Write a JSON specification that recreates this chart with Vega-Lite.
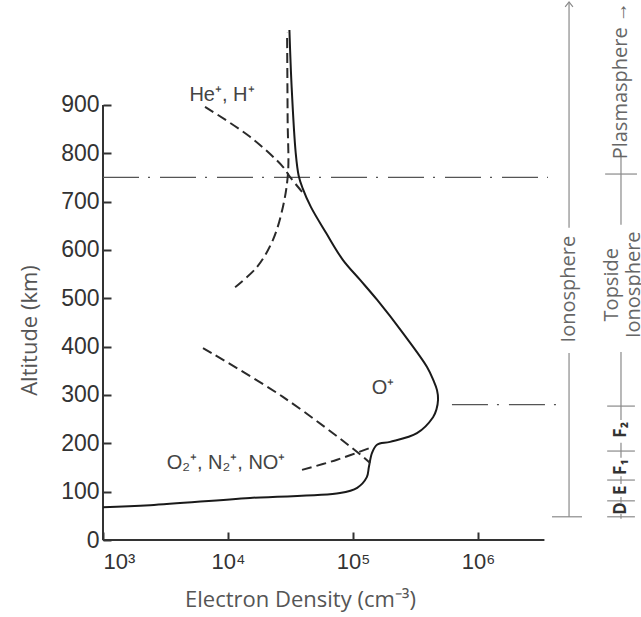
{
  "$schema": "https://vega.github.io/schema/vega-lite/v6.json",
  "autosize": {"type": "none"},
  "padding": {"left": 103, "top": 0, "right": 0, "bottom": 77},
  "width": 538,
  "height": 540,
  "background": "white",
  "config": {"view": {"stroke": null}},
  "datasets": {
    "curves": [
      {"series": "total", "i": 1, "n": 31000, "alt": 1055},
      {"series": "total", "i": 2, "n": 32300, "alt": 937},
      {"series": "total", "i": 3, "n": 34800, "alt": 801},
      {"series": "total", "i": 4, "n": 36800, "alt": 753},
      {"series": "total", "i": 5, "n": 39500, "alt": 728},
      {"series": "total", "i": 6, "n": 46000, "alt": 689},
      {"series": "total", "i": 7, "n": 61000, "alt": 635},
      {"series": "total", "i": 8, "n": 83200, "alt": 579},
      {"series": "total", "i": 9, "n": 114000, "alt": 538},
      {"series": "total", "i": 10, "n": 155600, "alt": 497},
      {"series": "total", "i": 11, "n": 251000, "alt": 428},
      {"series": "total", "i": 12, "n": 391000, "alt": 358},
      {"series": "total", "i": 13, "n": 440000, "alt": 330},
      {"series": "total", "i": 14, "n": 470000, "alt": 310},
      {"series": "total", "i": 15, "n": 479000, "alt": 290},
      {"series": "total", "i": 16, "n": 465000, "alt": 270},
      {"series": "total", "i": 17, "n": 437000, "alt": 254},
      {"series": "total", "i": 18, "n": 325000, "alt": 221},
      {"series": "total", "i": 19, "n": 198000, "alt": 203},
      {"series": "total", "i": 20, "n": 155600, "alt": 197},
      {"series": "total", "i": 21, "n": 142000, "alt": 180},
      {"series": "total", "i": 22, "n": 134000, "alt": 151},
      {"series": "total", "i": 23, "n": 129000, "alt": 130},
      {"series": "total", "i": 24, "n": 108000, "alt": 108},
      {"series": "total", "i": 25, "n": 78700, "alt": 97},
      {"series": "total", "i": 26, "n": 15000, "alt": 87},
      {"series": "total", "i": 27, "n": 2380, "alt": 72},
      {"series": "total", "i": 28, "n": 1000, "alt": 68},
      {"series": "upperO", "i": 1, "n": 6550, "alt": 896},
      {"series": "upperO", "i": 2, "n": 15000, "alt": 834},
      {"series": "upperO", "i": 3, "n": 27500, "alt": 772},
      {"series": "upperO", "i": 4, "n": 31300, "alt": 751},
      {"series": "upperO", "i": 5, "n": 39800, "alt": 718},
      {"series": "light", "i": 1, "n": 11400, "alt": 523},
      {"series": "light", "i": 2, "n": 17100, "alt": 565},
      {"series": "light", "i": 3, "n": 22900, "alt": 621},
      {"series": "light", "i": 4, "n": 27500, "alt": 689},
      {"series": "light", "i": 5, "n": 30200, "alt": 759},
      {"series": "light", "i": 6, "n": 30000, "alt": 869},
      {"series": "light", "i": 7, "n": 29700, "alt": 1049},
      {"series": "lowerO", "i": 1, "n": 6310, "alt": 397},
      {"series": "lowerO", "i": 2, "n": 27500, "alt": 296},
      {"series": "lowerO", "i": 3, "n": 108000, "alt": 182},
      {"series": "lowerO", "i": 4, "n": 137000, "alt": 159},
      {"series": "molecular", "i": 1, "n": 39100, "alt": 145},
      {"series": "molecular", "i": 2, "n": 74500, "alt": 166},
      {"series": "molecular", "i": 3, "n": 142000, "alt": 192}
    ],
    "boundaries": [
      {"n": 1000, "n2": 3630000, "alt": 750},
      {"n": 619000, "n2": 4500000, "alt": 280}
    ],
    "vsegments": [
      {"n": 5350000, "alt": 48, "alt2": 387},
      {"n": 5350000, "alt": 646, "alt2": 1113},
      {"n": 13930000, "alt": 652, "alt2": 801},
      {"n": 13930000, "alt": 248, "alt2": 389},
      {"n": 13930000, "alt": 170, "alt2": 201},
      {"n": 13930000, "alt": 116, "alt2": 132},
      {"n": 13930000, "alt": 77, "alt2": 89},
      {"n": 13930000, "alt": 44, "alt2": 54}
    ],
    "hticks": [
      {"n": 3910000, "n2": 6790000, "alt": 48},
      {"n": 10400000, "n2": 18700000, "alt": 757},
      {"n": 10800000, "n2": 18000000, "alt": 277},
      {"n": 10800000, "n2": 18000000, "alt": 184},
      {"n": 10800000, "n2": 18000000, "alt": 124},
      {"n": 10800000, "n2": 18000000, "alt": 81},
      {"n": 10800000, "n2": 18000000, "alt": 48}
    ]
  },
  "layer": [
    {
      "data": {"values": [{"n": 1000, "alt": 0, "alt2": 900}]},
      "mark": {"type": "rule", "color": "#333", "strokeWidth": 2},
      "encoding": {
        "x": {"field": "n", "type": "quantitative", "scale": {"type": "log", "domain": [1000, 20140000], "nice": false},
          "axis": {"values": [1000, 10000, 100000, 1000000], "domain": false, "grid": false, "tickSize": -8, "tickWidth": 2, "tickColor": "#333",
            "labelExpr": "datum.value == 1000 ? '10³' : datum.value == 10000 ? '10⁴' : datum.value == 100000 ? '10⁵' : '10⁶'",
            "labelFont": "Liberation Sans", "labelFontSize": 22, "labelColor": "#333", "labelPadding": 19,
            "title": "Electron Density (cm⁻³)", "titleFont": "Open Sans", "titleFontSize": 22, "titleFontWeight": "normal", "titleColor": "#555",
            "titleX": 197, "titleY": 59, "titleBaseline": "middle", "titleAlign": "center"}},
        "y": {"field": "alt", "type": "quantitative", "scale": {"domain": [0, 1117], "nice": false},
          "axis": {"values": [0, 100, 200, 300, 400, 500, 600, 700, 800, 900], "domain": false, "grid": false, "tickSize": -8, "tickWidth": 2, "tickColor": "#333",
            "labelFont": "Liberation Sans", "labelFontSize": 23, "labelColor": "#333", "labelPadding": 12,
            "title": "Altitude (km)", "titleFont": "Open Sans", "titleFontSize": 22, "titleFontWeight": "normal", "titleColor": "#555",
            "titleX": -74, "titleY": 330, "titleAngle": 270, "titleBaseline": "middle", "titleAlign": "center"}},
        "y2": {"field": "alt2"}
      }
    },
    {
      "data": {"values": [{"n": 1000, "n2": 3400000, "alt": 0}]},
      "mark": {"type": "rule", "color": "#333", "strokeWidth": 2},
      "encoding": {
        "x": {"field": "n", "type": "quantitative", "scale": {"type": "log", "domain": [1000, 20140000], "nice": false}},
        "x2": {"field": "n2"},
        "y": {"field": "alt", "type": "quantitative", "scale": {"domain": [0, 1117], "nice": false}}
      }
    },
    {
      "data": {"name": "boundaries"},
      "mark": {"type": "rule", "color": "#555", "strokeWidth": 1.2, "strokeDash": [36, 9, 2, 10]},
      "encoding": {
        "x": {"field": "n", "type": "quantitative", "scale": {"type": "log", "domain": [1000, 20140000], "nice": false}},
        "x2": {"field": "n2"},
        "y": {"field": "alt", "type": "quantitative", "scale": {"domain": [0, 1117], "nice": false}}
      }
    },
    {
      "data": {"name": "curves"},
      "transform": [{"filter": "datum.series == 'total'"}],
      "mark": {"type": "line", "color": "#1a1a1a", "strokeWidth": 2, "interpolate": "catmull-rom"},
      "encoding": {
        "x": {"field": "n", "type": "quantitative", "scale": {"type": "log", "domain": [1000, 20140000], "nice": false}},
        "y": {"field": "alt", "type": "quantitative", "scale": {"domain": [0, 1117], "nice": false}},
        "order": {"field": "i", "type": "quantitative"}
      }
    },
    {
      "data": {"name": "curves"},
      "transform": [{"filter": "datum.series != 'total'"}],
      "mark": {"type": "line", "color": "#2a2a2a", "strokeWidth": 2, "strokeDash": [10, 5], "interpolate": "catmull-rom"},
      "encoding": {
        "x": {"field": "n", "type": "quantitative", "scale": {"type": "log", "domain": [1000, 20140000], "nice": false}},
        "y": {"field": "alt", "type": "quantitative", "scale": {"domain": [0, 1117], "nice": false}},
        "detail": {"field": "series"},
        "order": {"field": "i", "type": "quantitative"}
      }
    },
    {
      "data": {"name": "vsegments"},
      "mark": {"type": "rule", "color": "#8a8a8a", "strokeWidth": 1.2},
      "encoding": {
        "x": {"field": "n", "type": "quantitative", "scale": {"type": "log", "domain": [1000, 20140000], "nice": false}},
        "y": {"field": "alt", "type": "quantitative", "scale": {"domain": [0, 1117], "nice": false}},
        "y2": {"field": "alt2"}
      }
    },
    {
      "data": {"name": "hticks"},
      "mark": {"type": "rule", "color": "#8a8a8a", "strokeWidth": 1.2},
      "encoding": {
        "x": {"field": "n", "type": "quantitative", "scale": {"type": "log", "domain": [1000, 20140000], "nice": false}},
        "x2": {"field": "n2"},
        "y": {"field": "alt", "type": "quantitative", "scale": {"domain": [0, 1117], "nice": false}}
      }
    },
    {
      "data": {"values": [{"n": 5350000, "alt": 1113}]},
      "mark": {"type": "point", "shape": "M-1,1.3L0,0L1,1.3", "size": 60, "filled": false, "stroke": "#8a8a8a", "strokeWidth": 1.2, "opacity": 1},
      "encoding": {
        "x": {"field": "n", "type": "quantitative", "scale": {"type": "log", "domain": [1000, 20140000], "nice": false}},
        "y": {"field": "alt", "type": "quantitative", "scale": {"domain": [0, 1117], "nice": false}}
      }
    },
    {
      "data": {"values": [
        {"n": 8950, "alt": 921, "label": "He⁺, H⁺"},
        {"n": 174000, "alt": 314, "label": "O⁺"},
        {"n": 9640, "alt": 159, "label": "O₂⁺, N₂⁺, NO⁺"}
      ]},
      "mark": {"type": "text", "font": "Liberation Sans", "fontSize": 20, "color": "#444", "align": "center", "baseline": "middle"},
      "encoding": {
        "x": {"field": "n", "type": "quantitative", "scale": {"type": "log", "domain": [1000, 20140000], "nice": false}},
        "y": {"field": "alt", "type": "quantitative", "scale": {"domain": [0, 1117], "nice": false}},
        "text": {"field": "label"}
      }
    },
    {
      "data": {"values": [
        {"n": 5350000, "alt": 519, "label": "Ionosphere"},
        {"n": 13930000, "alt": 950, "label": "Plasmasphere →"},
        {"n": 11800000, "alt": 528, "label": "Topside"},
        {"n": 17700000, "alt": 528, "label": "Ionosphere"}
      ]},
      "mark": {"type": "text", "font": "Open Sans", "fontSize": 20, "color": "#666", "align": "center", "baseline": "middle", "angle": 270},
      "encoding": {
        "x": {"field": "n", "type": "quantitative", "scale": {"type": "log", "domain": [1000, 20140000], "nice": false}},
        "y": {"field": "alt", "type": "quantitative", "scale": {"domain": [0, 1117], "nice": false}},
        "text": {"field": "label"}
      }
    },
    {
      "data": {"values": [
        {"n": 13930000, "alt": 228, "label": "F₂"},
        {"n": 13930000, "alt": 151, "label": "F₁"},
        {"n": 13930000, "alt": 103, "label": "E"},
        {"n": 13930000, "alt": 65, "label": "D"}
      ]},
      "mark": {"type": "text", "font": "Open Sans", "fontSize": 17, "fontWeight": "bold", "color": "#333", "align": "center", "baseline": "middle", "angle": 270},
      "encoding": {
        "x": {"field": "n", "type": "quantitative", "scale": {"type": "log", "domain": [1000, 20140000], "nice": false}},
        "y": {"field": "alt", "type": "quantitative", "scale": {"domain": [0, 1117], "nice": false}},
        "text": {"field": "label"}
      }
    }
  ]
}
